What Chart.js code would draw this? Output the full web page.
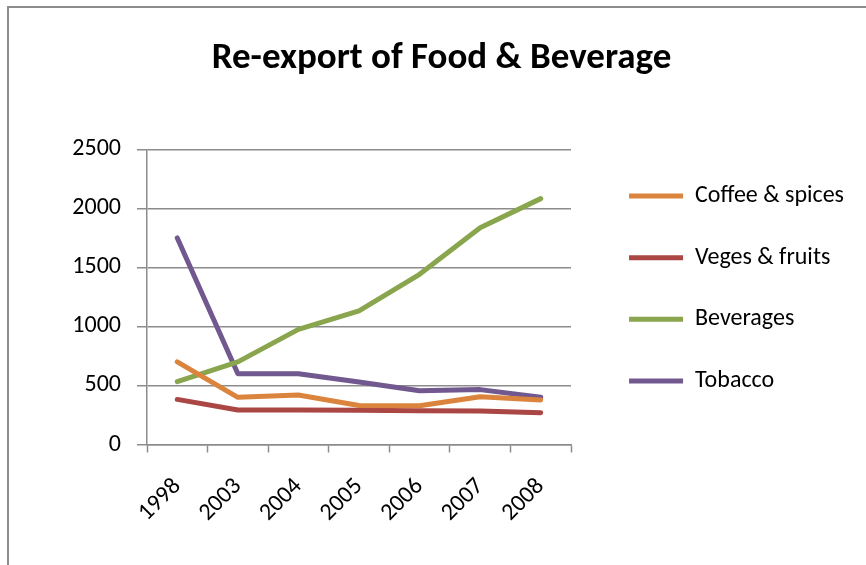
<!DOCTYPE html>
<html>
<head>
<meta charset="utf-8">
<script src="https://cdn.jsdelivr.net/npm/chart.js@4.4.0/dist/chart.umd.min.js"></script>
<style>
    html, body { margin: 0; padding: 0; background: #fff; overflow: hidden; }
    #frame {
        position: absolute; left: 7px; top: 6px; width: 900px; height: 600px;
        border-left: 2px solid #8c8c8c; border-top: 2px solid #8c8c8c;
    }
    #wrap { position: absolute; left: 0; top: 0; width: 866px; height: 565px; }
</style>
</head>
<body>
<div id="frame"></div>
<div id="wrap"><canvas id="chart"></canvas></div>
<script>
// --- data ---
const YEARS = ['1998', '2003', '2004', '2005', '2006', '2007', '2008'];
const COFFEE_SPICES = [700, 400, 420, 330, 328, 405, 378];
const VEGES_FRUITS = [382, 292, 292, 290, 286, 284, 270];
const BEVERAGES = [532, 700, 975, 1132, 1442, 1837, 2083];
const TOBACCO = [1750, 600, 600, 530, 455, 465, 400];

const SERIES_NAMES = ['Coffee & spices', 'Veges & fruits', 'Beverages', 'Tobacco'];
const SERIES_VALUES = [COFFEE_SPICES, VEGES_FRUITS, BEVERAGES, TOBACCO];
const SERIES_COLORS = ['#DB843D', '#AA4643', '#89A54E', '#71588F'];

const FONT = 'Carlito, Lato, "Liberation Sans", sans-serif';
const GRID = '#8c8c8c';
const PAD_LEFT = 29;
const PAD_RIGHT = 12;
const PLOT_LEFT = 147;   // where the value axis sits
const PLOT_RIGHT = 571;  // right end of the plot area
const PLOT_BOTTOM = 444.5;

const datasets = SERIES_NAMES.map((name, i) => ({
    label: name,
    data: SERIES_VALUES[i],
    borderColor: SERIES_COLORS[i],
    backgroundColor: SERIES_COLORS[i],
    borderWidth: 5,
    borderCapStyle: 'round',
    borderJoinStyle: 'round',
    pointRadius: 0,
    pointHoverRadius: 0,
    pointStyle: 'line',
    tension: 0,
    fill: false
}));

new Chart(document.getElementById('chart'), {
    type: 'line',
    data: { labels: YEARS, datasets: datasets },
    options: {
        responsive: true,
        maintainAspectRatio: false,
        animation: false,
        layout: { padding: { left: PAD_LEFT, right: PAD_RIGHT, top: 0, bottom: 0 } },
        plugins: {
            tooltip: { enabled: false },
            title: {
                display: true,
                text: 'Re-export of Food & Beverage',
                color: '#000',
                font: { family: FONT, size: 37, weight: 'bold' },
                padding: { top: 37, bottom: 68 }
            },
            legend: {
                position: 'right',
                align: 'center',
                maxWidth: 400,
                // empty title only nudges the items down a little
                title: { display: true, text: ' ', font: { size: 1 }, padding: { top: 0, bottom: 10.8 } },
                labels: {
                    color: '#000',
                    font: { family: FONT, size: 24 },
                    usePointStyle: true,
                    pointStyleWidth: 54,
                    boxHeight: 4,
                    padding: 37.7
                }
            }
        },
        scales: {
            x: {
                offset: true,
                afterFit: (scale) => { scale.height = 565 - PLOT_BOTTOM; },
                grid: {
                    offset: true,
                    drawOnChartArea: false,
                    drawTicks: true,
                    tickLength: 8,
                    tickColor: GRID,
                    tickWidth: 1.5
                },
                border: { color: GRID, width: 1.5 },
                ticks: {
                    color: '#000',
                    font: { family: FONT, size: 24 },
                    minRotation: 45,
                    maxRotation: 45,
                    padding: 20
                }
            },
            y: {
                min: 0,
                max: 2500,
                afterFit: (scale) => { scale.width = PLOT_LEFT - PAD_LEFT; },
                grid: {
                    color: GRID,
                    lineWidth: 1.5,
                    tickLength: 10,
                    tickColor: GRID
                },
                border: { color: GRID, width: 1.5 },
                ticks: {
                    stepSize: 500,
                    format: { useGrouping: false },
                    color: '#000',
                    font: { family: FONT, size: 24 },
                    padding: 16
                }
            },
            // empty gap between the plot area and the legend
            gap: {
                type: 'linear',
                axis: 'y',
                position: 'right',
                afterFit: (scale) => {
                    const lw = scale.chart.legend ? scale.chart.legend.width : 0;
                    scale.width = Math.max(0, scale.chart.width - PAD_RIGHT - lw - PLOT_RIGHT);
                },
                grid: { display: false },
                border: { display: false },
                ticks: { display: false }
            }
        }
    }
});
</script>
</body>
</html>
